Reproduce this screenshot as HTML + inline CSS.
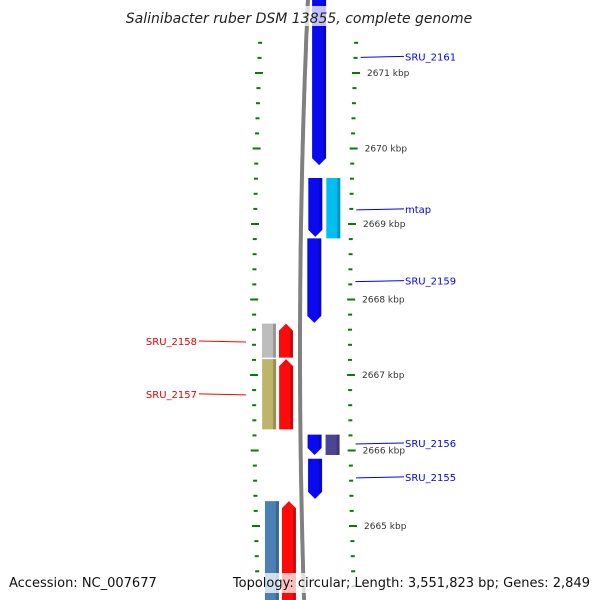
<!DOCTYPE html>
<html><head><meta charset="utf-8"><style>
html,body{margin:0;padding:0;background:#fff}
svg{display:block;font-family:"DejaVu Sans","Liberation Sans",sans-serif}
</style></head><body>
<svg id="map" width="600" height="600" viewBox="0 0 600 600" xmlns="http://www.w3.org/2000/svg">
<g id="ticks"></g>
<g id="genes"></g>
<g id="labels"></g>
<rect x="125" y="6" width="350" height="20" fill="#fff" opacity="0.75"/>
<text x="299" y="23" text-anchor="middle" font-size="14" font-style="italic" fill="#222">Salinibacter ruber DSM 13855, complete genome</text>
<rect x="0" y="573" width="600" height="20" fill="#fff" opacity="0.75"/>
<text x="9" y="587" font-size="13" fill="#111">Accession: NC_007677</text>
<text x="590" y="587" text-anchor="end" font-size="13" fill="#111">Topology: circular; Length: 3,551,823 bp; Genes: 2,849</text>
</svg>
<script>
const majorTicks=[2671,2670,2669,2668,2667,2666,2665];
const geneNames=["SRU_2161","blue-2","mtap","SRU_2159","SRU_2158","gray-2158","SRU_2157","olive-2157","SRU_2156","purple-2156","SRU_2155","SRU_2154","steel-2154"];
const geneStart=[2672.3,2669.61,2669.61,2668.81,2667.68,2667.68,2667.21,2667.21,2666.21,2666.21,2665.89,2665.33,2665.33];
const geneEnd=[2669.78,2668.83,2668.81,2667.69,2667.23,2667.23,2666.28,2666.28,2665.94,2665.94,2665.36,2663.7,2663.7];
const geneRing=[1,1,2,1,-1,-2,-1,-2,1,2,1,-1,-2];
const geneArrow=["down","down","none","down","up","none","up","none","down","none","down","up","none"];
const geneColor=["#0a0af0","#0a0af0","#00bff0","#0a0af0","#ff0a0a","#bdbdbd","#ff0a0a","#bdb56a","#0a0af0","#4b4593","#0a0af0","#ff0a0a","#4a80b4"];
const labelText=["SRU_2161","mtap","SRU_2159","SRU_2158","SRU_2157","SRU_2156","SRU_2155","SRU_2154"];
const labelBp=[2671.22,2669.2,2668.25,2667.45,2666.75,2666.1,2665.65,2663.97];
const labelSide=[1,1,1,-1,-1,1,1,-1];
const NS="http://www.w3.org/2000/svg";
const yOf=kb=>73+(2671-kb)*75.5;
const curve=y=>6.5e-5*(y-350)*(y-350);
function mk(t,a,p){const e=document.createElementNS(NS,t);for(const k in a)e.setAttribute(k,a[k]);p.appendChild(e);return e;}
const svg=document.getElementById('map');
// backbone
let d="";for(let y=-5;y<=605;y+=5){d+=(y<0?"M":"L")+(300+curve(y)).toFixed(1)+" "+y;}
const bb=mk('path',{d:d,stroke:'#808080','stroke-width':4,fill:'none'},svg);

svg.insertBefore(bb,svg.firstChild);
// ticks
const tg=document.getElementById('ticks');
for(let kb=2673;kb>=2663;kb-=0.2){const k=Math.round(kb*10)/10;const y=yOf(k);if(y<30||y>600)continue;
 const major=Math.abs(k-Math.round(k))<0.01;const c=curve(y);const w=major?8:4;
 const r=mk('rect',{x:350+c-w/2+(major?1:0),y:y-1,width:w,height:2,fill:'#0a7a0a'},tg);
 
 const l=mk('rect',{x:254+c-w/2,y:y-1,width:w,height:2,fill:'#0a7a0a'},tg);
 }
majorTicks.forEach(k=>{const y=yOf(k);const t=mk('text',{x:362+curve(y),y:y+3,'font-size':9,fill:'#333'},tg);t.textContent=k+" kbp";
 });
// genes
const gg=document.getElementById('genes');
const ringX={1:307,2:325,'-1':279,'-2':262};
geneNames.forEach((n,i)=>{const y1=yOf(geneStart[i]),y2=yOf(geneEnd[i]);const ym=(y1+y2)/2;const x=ringX[geneRing[i]]+curve(ym);const w=geneRing[i]==2||geneRing[i]==-2?14:14;
 let p;const a=7;
 if(geneArrow[i]=="down")p=`M${x} ${y1}L${x+w} ${y1}L${x+w} ${y2-a}L${x+w/2} ${y2}L${x} ${y2-a}Z`;
 else if(geneArrow[i]=="up")p=`M${x} ${y2}L${x+w} ${y2}L${x+w} ${y1+a}L${x+w/2} ${y1}L${x} ${y1+a}Z`;
 else p=`M${x} ${y1}L${x+w} ${y1}L${x+w} ${y2}L${x} ${y2}Z`;
 const e=mk('path',{d:p,fill:geneColor[i]},gg);
 
 const s=mk('rect',{x:x+w-3,y:Math.min(y1,y2),width:3,height:Math.abs(y2-y1)-(geneArrow[i]=="none"?0:a),fill:'#000',opacity:0.2},gg);
 if(geneArrow[i]=="up")s.setAttribute('y',y1+a);
 });
// labels
const lg=document.getElementById('labels');
labelText.forEach((n,i)=>{const y=yOf(labelBp[i]);const c=curve(y);
 if(labelSide[i]>0){const ln=mk('line',{x1:355+c,y1:y+1,x2:404,y2:y,stroke:'#0000ff','stroke-width':1},lg);
  
  const t=mk('text',{x:405,y:y+4,'font-size':10,fill:'#0000ff'},lg);t.textContent=n;
  }
 else{const ln=mk('line',{x1:199,y1:y,x2:246+c,y2:y+1,stroke:'#ff0000','stroke-width':1},lg);
  
  const t=mk('text',{x:197,y:y+4,'font-size':10,fill:'#e00000','text-anchor':'end'},lg);t.textContent=n;
  }});
</script>
</body></html>
